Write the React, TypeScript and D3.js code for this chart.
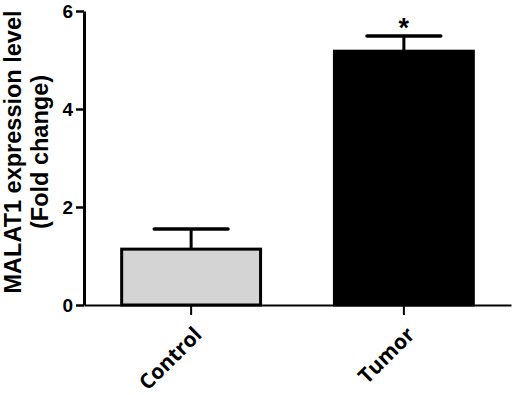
import React, { useEffect, useRef } from "react";
import { axisBottom, axisLeft, scaleBand, scaleLinear, select } from "d3";

// data
const groups = ["Control", "Tumor"];
const means = [1.14, 5.18];
const errors = [0.41, 0.31];
const fills = ["#d4d4d4", "#000000"];
const yTicks = [0, 2, 4, 6];
const marks = ["", "*"];

const WIDTH = 517;
const HEIGHT = 395;
const margin = { left: 84, top: 11, right: 6, bottom: 90 };

const App = () => {
  const svgRef = useRef<SVGSVGElement | null>(null);

  useEffect(() => {
    const svg = select(svgRef.current);
    svg.selectAll("*").remove();
    const innerW = WIDTH - margin.left - margin.right;
    const innerH = HEIGHT - margin.top - margin.bottom;

    const x = scaleBand()
      .domain(groups)
      .range([0, innerW])
      .paddingInner(0.333)
      .paddingOuter(0.17);
    const y = scaleLinear().domain([0, 6]).range([innerH, 0]);

    const g = svg
      .append("g")
      .attr("transform", `translate(${margin.left},${margin.top})`);

    const rows = groups.map((name, i) => ({
      name,
      mean: means[i],
      err: errors[i],
      fill: fills[i],
      mark: marks[i],
    }));

    // error bars (upper only), drawn under the bars
    const eb = g.append("g");
    rows.forEach((r) => {
      const cx = x(r.name)! + x.bandwidth() / 2;
      eb.append("line")
        .attr("x1", cx)
        .attr("x2", cx)
        .attr("y1", y(r.mean))
        .attr("y2", y(r.mean + r.err))
        .attr("stroke", "#000")
        .attr("stroke-width", 3);
      eb.append("line")
        .attr("x1", cx - x.bandwidth() * 0.26)
        .attr("x2", cx + x.bandwidth() * 0.26)
        .attr("y1", y(r.mean + r.err))
        .attr("y2", y(r.mean + r.err))
        .attr("stroke", "#000")
        .attr("stroke-width", 3.5)
        .attr("stroke-linecap", "round");
    });

    // bars
    g.append("g")
      .selectAll("rect")
      .data(rows)
      .enter()
      .append("rect")
      .attr("x", (r) => x(r.name)! + 1.5)
      .attr("y", (r) => y(r.mean))
      .attr("width", x.bandwidth() - 3)
      .attr("height", (r) => innerH - y(r.mean))
      .attr("fill", (r) => r.fill)
      .attr("stroke", "#000")
      .attr("stroke-width", 3);

    // significance mark
    g.append("g")
      .selectAll("text")
      .data(rows)
      .enter()
      .append("text")
      .attr("x", (r) => x(r.name)! + x.bandwidth() / 2)
      .attr("y", (r) => y(r.mean + r.err) + 1)
      .attr("text-anchor", "middle")
      .style("font-family", "'Liberation Sans', Arial, sans-serif")
      .style("font-weight", "bold")
      .style("font-size", "27px")
      .text((r) => r.mark);

    // x axis
    const xAxisG = g
      .append("g")
      .attr("transform", `translate(0,${innerH})`)
      .call(axisBottom(x).tickSize(10).tickSizeOuter(0));
    xAxisG.select(".domain").attr("stroke-width", 2).attr("stroke", "#000");
    xAxisG.selectAll(".tick line").attr("stroke-width", 2);
    xAxisG
      .selectAll(".tick text")
      .style("font-family", "'Open Sans', sans-serif")
      .style("font-weight", "bold")
      .style("font-size", "21px")
      .attr("fill", "#000")
      .attr("text-anchor", "end")
      .attr("dy", null)
      .attr("y", 0)
      .attr("transform", "translate(12,31) rotate(-45)");

    // y axis
    const yAxisG = g
      .append("g")
      .call(
        axisLeft(y)
          .tickValues(yTicks)
          .tickFormat((d) => `${d}`)
          .tickSize(8)
          .tickSizeOuter(0)
          .tickPadding(3)
      );
    yAxisG.select(".domain").attr("stroke-width", 3).attr("stroke", "#000");
    yAxisG.selectAll(".tick line").attr("stroke-width", 2.5);
    yAxisG
      .selectAll(".tick text")
      .style("font-family", "'Liberation Sans', Arial, sans-serif")
      .style("font-weight", "bold")
      .style("font-size", "19px")
      .attr("fill", "#000");

    // y label
    const yl = svg
      .append("text")
      .attr("transform", `translate(21,152) rotate(-90)`)
      .attr("text-anchor", "middle")
      .style("font-family", "'Liberation Sans', Arial, sans-serif")
      .style("font-weight", "bold")
      .style("font-size", "23.5px");
    yl.append("tspan").attr("x", 0).attr("y", 0).text("MALAT1 expression level");
    yl.append("tspan").attr("x", 0).attr("y", 27).text("(Fold change)");
  }, []);

  return (
    <div style={{ position: "absolute", left: 0, top: 0 }}>
      <svg ref={svgRef} width={WIDTH} height={HEIGHT} style={{ display: "block", background: "#fff" }}></svg>
    </div>
  );
};

export default App;
